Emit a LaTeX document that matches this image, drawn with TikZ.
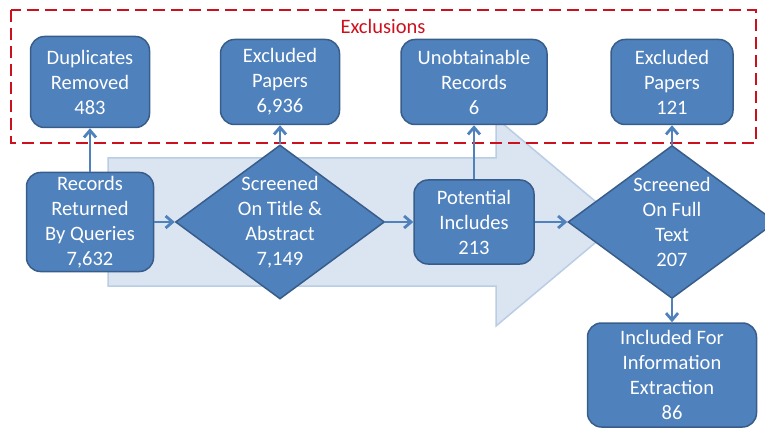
\documentclass[tikz,border=0pt]{standalone}
\usepackage{fontspec}
\setmainfont{Carlito}
\usetikzlibrary{shapes.geometric,arrows.meta}
\definecolor{boxblue}{RGB}{79,129,189}
\definecolor{edgeblue}{RGB}{56,93,138}
\definecolor{paleblue}{RGB}{219,228,241}
\definecolor{paleedge}{RGB}{185,205,229}
\definecolor{exred}{RGB}{204,16,30}
\begin{document}
\begin{tikzpicture}[x=1pt,y=-1pt,
    every node/.style={font=\fontsize{20.5}{25}\selectfont},
    stage/.style={draw=edgeblue,line width=1.5pt,fill=boxblue,rounded corners=14pt,
      text=white,align=center,inner sep=0pt},
    check/.style={diamond,draw=edgeblue,line width=1.5pt,fill=boxblue,inner sep=0pt},
    checktext/.style={text=white,align=center,inner sep=0pt},
    flow/.style={draw=boxblue,line width=2.8pt,-{Straight Barb[length=7pt,width=12pt]}}]
  \useasboundingbox (0,0) rectangle (765,430);
  \draw[paleedge,fill=paleblue,line width=1.5pt] (108,158) -- (496,158) -- (496,118)
    -- (620,222) -- (496,326) -- (496,286) -- (108,286) -- cycle;
  \draw[exred,line width=2.5pt,dash pattern=on 12pt off 6pt] (11,10) rectangle (756,143);
  \node[text=exred] (excl) at (383,26) {Exclusions};

  \node[stage,minimum width=119pt,minimum height=91pt] (dup) at (90,82) {Duplicates\\Removed\\483};
  \node[stage,minimum width=119pt,minimum height=85pt] (exa) at (280,82) {Excluded\\Papers\\6,936};
  \node[stage,minimum width=146pt,minimum height=85pt] (unob) at (474,82) {Unobtainable\\Records\\6};
  \node[stage,minimum width=122pt,minimum height=85pt] (exf) at (672,82) {Excluded\\Papers\\121};

  \node[stage,minimum width=127pt,minimum height=99pt] (rec) at (90,222) {Records\\Returned\\By Queries\\7,632};
  \node[check,minimum width=209pt,minimum height=154pt] (scra) at (280,222) {};
  \node[checktext] (scratext) at (scra) {Screened\\On Title \&\\Abstract\\7,149};
  \node[stage,minimum width=120pt,minimum height=84pt] (pot) at (474,222) {Potential\\Includes\\213};
  \node[check,minimum width=208pt,minimum height=153pt] (scrf) at (672,222) {};
  \node[checktext] (scrftext) at (scrf) {Screened\\On Full\\Text\\207};
  \node[stage,minimum width=169pt,minimum height=104pt] (inc) at (672,375) {Included For\\Information\\Extraction\\86};

  \draw[flow] (rec) -- (dup);
  \draw[flow] (rec) -- (scra);
  \draw[flow] (scra) -- (exa);
  \draw[flow] (scra) -- (pot);
  \draw[flow] (pot) -- (unob);
  \draw[flow] (pot) -- (scrf);
  \draw[flow] (scrf) -- (exf);
  \draw[flow] (scrf) -- (inc);
\end{tikzpicture}
\end{document}
